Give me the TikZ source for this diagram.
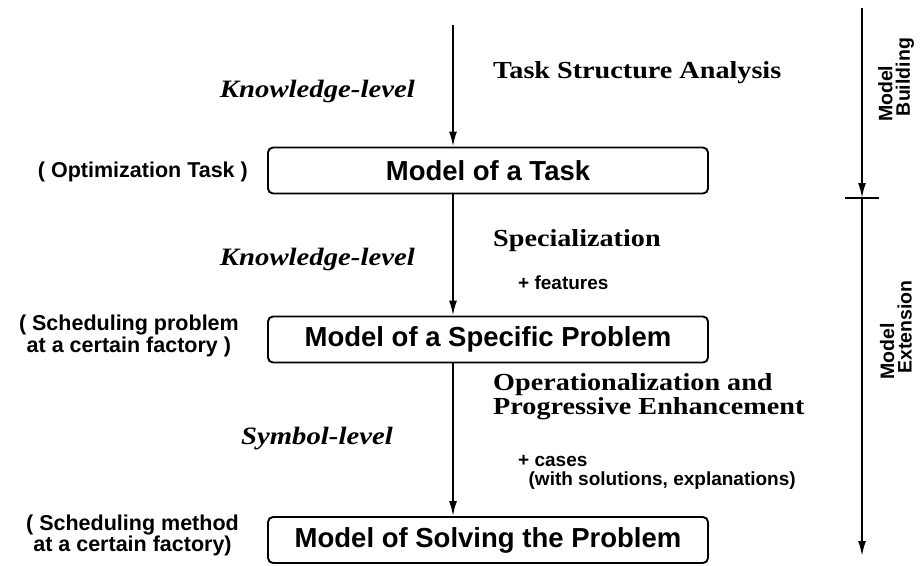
\documentclass[tikz,border=0pt]{standalone}
\usepackage{fontspec}
\setmainfont{Liberation Serif}
\setsansfont{Liberation Sans}
\newfontfamily\wideserif[FakeStretch=1.15, BoldFont={Liberation Serif Bold}, BoldItalicFont={Liberation Serif Bold Italic}]{Liberation Serif}
\usetikzlibrary{arrows.meta}
\begin{document}
\begin{tikzpicture}[x=1pt,y=-1pt,
  modelbox/.style={draw, line width=1.9pt, rounded corners=5pt, minimum width=440pt, minimum height=46pt, font=\sffamily\bfseries\fontsize{27.5}{28}\selectfont, inner sep=0pt},
  arr/.style={line width=1.9pt, -{Latex[length=15pt,width=8pt]}},
  lvl/.style={font=\wideserif\bfseries\itshape\fontsize{25}{26}\selectfont, inner sep=0pt},
  stagetxt/.style={font=\wideserif\bfseries\fontsize{24.5}{20.5}\selectfont, inner sep=0pt, align=left},
  plus/.style={font=\sffamily\bfseries\fontsize{19}{19}\selectfont, inner sep=0pt, align=left},
  side/.style={font=\sffamily\bfseries\fontsize{21.5}{18.5}\selectfont, inner sep=0pt, align=center},
  phase/.style={font=\sffamily\bfseries\fontsize{19.5}{17.5}\selectfont, inner sep=0pt, align=left, rotate=90}
]
\useasboundingbox (0,0) rectangle (923,565);

% main column
\node[modelbox] (b1) at (488,170.5) {Model of a Task};
\node[modelbox] (b2) at (488,339.5) {Model of a Specific Problem};
\node[modelbox] (b3) at (488,540) {Model of Solving the Problem};
\coordinate (top) at (453,25);
\draw[arr] (top) -- (top |- b1.north);
\draw[arr] (top |- b1.south) -- (top |- b2.north);
\draw[arr] (top |- b2.south) -- (top |- b3.north);

% level labels
\node[lvl, anchor=base east] (k1) at (415,97) {Knowledge-level};
\node[lvl, anchor=base east] (k2) at (415,265) {Knowledge-level};
\node[lvl, anchor=base east] (s1) at (393,444) {Symbol-level};

% stage labels
\node[stagetxt, anchor=base west] (t1) at (493,78) {Task Structure Analysis};
\node[stagetxt, anchor=base west] (t2) at (493,246) {Specialization};
\node[stagetxt, anchor=base west] (t3) at (493,414) {Operationalization and\\Progressive Enhancement};
\node[plus, anchor=base west] (p1) at (518,289) {+ features};
\node[plus, anchor=base west] (p2) at (518,485) {+ cases\\\hspace*{0.55em}(with solutions, explanations)};

% side labels
\node[side, anchor=east] (l1) at (248,172) {( Optimization Task )};
\node[side, anchor=east] (l2) at (239,336) {( Scheduling problem\\at a certain factory )};
\node[side, anchor=east] (l3) at (239,535) {( Scheduling method\\at a certain factory)};

% phase axis
\coordinate (rtop) at (862,8);
\coordinate (rmid) at (862,198);
\coordinate (rbot) at (862,556);
\coordinate (tl) at (845,198);
\coordinate (tr) at (879,198);
\draw[arr] (rtop) -- (rmid);
\draw[arr] (rmid) -- (rbot);
\draw[line width=1.9pt] (tl) -- (tr);
\node[phase] (mb) at (896,80) {Model\\\hspace*{0.3em}Building};
\node[phase] (me) at (896,330) {Model\\\hspace*{0.3em}Extension};
\end{tikzpicture}
\end{document}
